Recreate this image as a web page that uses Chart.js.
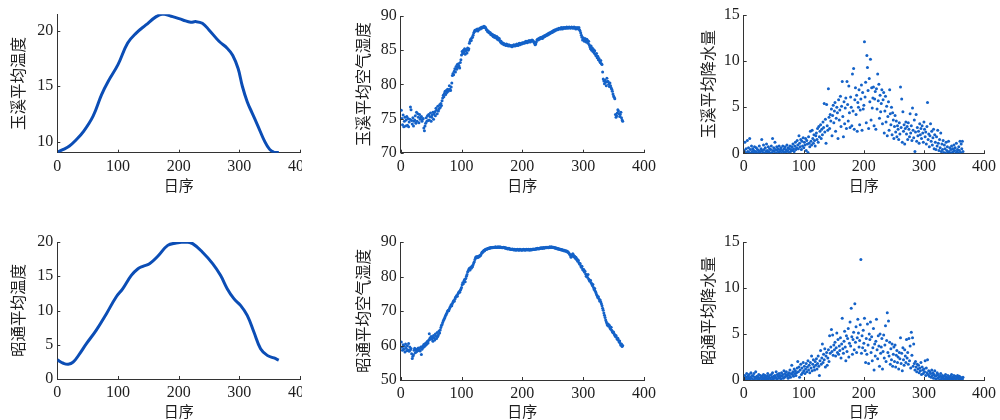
<!DOCTYPE html>
<html><head><meta charset="utf-8">
<script src="https://cdn.jsdelivr.net/npm/chart.js@4.4.0/dist/chart.umd.min.js"></script>
<style>
html,body{margin:0;padding:0;background:#fff;width:1000px;height:420px;overflow:hidden;position:relative}
canvas{position:absolute}
</style></head><body>
<canvas id="c1"></canvas><canvas id="c2"></canvas><canvas id="c3"></canvas>
<canvas id="c4"></canvas><canvas id="c5"></canvas><canvas id="c6"></canvas>
<script>
// ---- tick labels ----
const xTicks = [0, 100, 200, 300, 400];
const yTicksYxTemp = [10, 15, 20];
const yTicksYxHum = [70, 75, 80, 85, 90];
const yTicksYxRain = [0, 5, 10, 15];
const yTicksZtTemp = [0, 5, 10, 15, 20];
const yTicksZtHum = [50, 60, 70, 80, 90];
const yTicksZtRain = [0, 5, 10, 15];

// ---- titles ----
const xTitle = '日序';
const yTitles = ['玉溪平均温度', '玉溪平均空气湿度', '玉溪平均降水量', '昭通平均温度', '昭通平均空气湿度', '昭通平均降水量'];

// ---- temperature curves (day, value) ----
const yxTempDays = [0,10,20,30,43,59,73,84,100,116,130,146,163,174,190,207,220,228,239,250,267,280,289,298,305,313,321,330,342,350,357,365];
const yxTemp = [9.05,9.3,9.6,10.1,10.9,12.3,14.25,15.45,16.95,18.9,19.8,20.54,21.29,21.53,21.29,20.99,20.78,20.84,20.69,20.09,19.04,18.44,17.8,16.6,15.0,13.6,12.6,11.5,10.0,9.3,9.05,9.02];
const ztTempDays = [0,10,18,26,37,48,64,81,97,108,122,133,141,152,166,182,196,212,223,239,256,269,280,291,302,313,324,335,346,357,365];
const ztTemp = [2.8,2.3,2.15,2.45,3.7,5.16,7.1,9.54,11.97,13.19,15.13,16.1,16.45,16.84,17.96,19.51,19.85,20.0,19.76,18.54,16.84,15.13,13.19,11.73,10.75,9.29,6.86,4.43,3.45,3.07,2.75];

// ---- daily humidity, Yuxi (day 1..365) ----
const yxHum = [
76.2,75.0,74.1,75.5,73.8,74.6,75.2,73.9,74.8,75.3,
74.0,75.0,73.8,74.5,74.9,76.7,76.3,74.7,74.2,75.1,
73.9,74.6,74.8,75.4,74.3,75.9,74.6,75.7,75.2,74.4,
75.6,74.9,75.2,75.3,74.6,74.9,75.0,73.6,73.2,73.9,
74.3,75.1,74.6,75.4,74.7,75.6,74.8,75.3,75.8,74.6,
75.2,75.5,75.9,74.9,75.7,76.0,75.4,76.5,76.2,75.7,
76.8,76.1,76.4,77.0,76.6,77.2,76.9,77.6,78.0,78.4,
78.2,78.7,79.0,78.5,79.1,78.8,79.3,79.0,79.2,79.8,
79.3,79.1,79.6,80.2,81.3,81.6,81.4,81.9,82.3,81.8,
82.6,82.2,82.9,82.5,83.0,82.7,82.4,83.2,83.6,84.3,
84.8,84.5,85.0,84.7,85.2,84.4,84.9,85.1,84.6,85.3,
85.0,85.2,86.0,86.3,86.6,86.4,86.8,86.9,87.2,87.5,
87.7,87.9,87.8,88.0,87.9,88.1,87.8,88.0,88.1,88.2,
88.1,88.3,88.2,88.4,88.3,88.4,88.5,88.3,88.4,88.2,
88.0,87.9,87.7,87.8,87.6,87.5,87.6,87.3,87.4,87.2,
87.3,87.0,87.2,86.9,87.1,86.8,86.9,87.0,86.6,86.8,
86.5,86.7,86.4,86.2,86.3,86.0,86.1,85.9,86.0,85.8,
85.9,85.8,85.7,85.9,85.8,85.7,85.6,85.8,85.7,85.6,
85.7,85.6,85.5,85.7,85.6,85.8,85.7,85.6,85.8,85.7,
85.9,85.8,85.7,85.9,86.0,85.8,85.9,86.0,85.9,86.1,
86.0,86.1,86.0,86.2,86.1,86.3,86.2,86.1,86.3,86.2,
86.4,86.3,86.2,86.4,86.3,86.5,86.4,86.3,86.2,86.0,
85.8,85.9,86.2,86.5,86.6,86.5,86.7,86.6,86.8,86.7,
86.9,86.8,86.7,87.0,86.9,87.1,87.0,87.2,87.1,87.3,
87.2,87.4,87.3,87.5,87.4,87.6,87.5,87.7,87.6,87.8,
87.7,87.9,87.8,88.0,87.9,88.0,88.1,88.0,88.1,88.2,
88.1,88.2,88.1,88.3,88.2,88.1,88.3,88.2,88.3,88.2,
88.3,88.2,88.4,88.3,88.2,88.3,88.4,88.3,88.2,88.3,
88.4,88.3,88.2,88.3,88.4,88.2,88.3,88.1,88.2,88.3,
88.2,88.1,88.3,88.0,87.8,87.5,87.2,86.9,86.5,86.8,
86.6,86.3,86.7,86.5,86.2,86.6,86.4,86.0,86.3,85.8,
85.5,85.2,85.6,85.0,85.3,84.8,85.1,84.6,84.9,84.4,
84.2,84.5,83.9,84.1,83.6,83.8,83.4,83.2,83.5,83.0,
82.9,81.8,80.8,80.5,80.1,80.6,80.3,79.8,80.9,80.4,
80.4,80.0,79.7,80.2,79.8,79.5,79.3,79.0,78.6,78.3,
78.1,77.9,75.6,75.2,75.4,75.8,76.3,76.1,75.7,75.3,
75.6,75.9,75.1,74.8,74.6
];

// ---- daily humidity, Zhaotong ----
const ztHum = [
61.0,59.5,58.6,60.2,58.9,59.8,58.1,60.4,59.2,58.5,
59.9,58.7,60.6,58.3,59.6,58.8,59.1,57.6,56.2,56.9,
57.3,58.6,59.2,57.9,58.8,58.2,59.0,58.5,59.3,58.7,
59.1,58.4,59.6,57.4,58.9,59.8,59.4,60.3,59.7,60.5,
60.1,60.8,60.4,61.2,60.7,61.5,63.4,62.1,61.8,62.6,
61.9,62.4,61.2,62.9,62.2,61.6,63.3,62.7,62.0,63.8,
62.6,63.1,64.2,63.6,64.5,65.2,65.8,66.1,66.7,67.2,
67.5,67.9,68.3,68.8,69.1,69.4,69.9,70.2,70.1,70.6,
71.0,71.4,71.8,71.5,72.2,72.6,73.0,72.8,73.4,73.9,
74.1,74.5,74.3,74.9,75.3,75.6,75.4,76.0,76.4,76.8,
77.6,78.2,77.9,78.7,79.1,78.5,79.4,80.1,80.6,81.3,
81.6,82.0,82.4,81.9,82.6,82.4,83.0,82.8,83.4,83.9,
84.3,84.9,85.4,85.7,85.4,85.8,85.5,85.9,85.7,86.1,
86.0,86.4,86.8,87.1,87.0,87.4,87.6,87.5,87.8,87.9,
88.0,87.9,88.1,88.2,88.1,88.3,88.2,88.4,88.3,88.4,
88.3,88.5,88.4,88.5,88.4,88.6,88.5,88.4,88.5,88.6,
88.5,88.4,88.6,88.5,88.4,88.5,88.3,88.4,88.5,88.3,
88.4,88.2,88.3,88.1,88.2,88.0,88.1,88.2,88.0,87.9,
88.0,87.8,87.9,88.0,87.8,87.7,87.9,87.8,87.6,87.8,
87.7,87.9,87.8,87.6,87.7,87.9,87.8,87.7,87.6,87.8,
87.7,87.9,87.8,87.6,87.8,87.7,87.9,87.8,87.7,87.9,
87.8,87.6,87.8,87.9,87.7,87.8,87.9,88.0,87.8,87.9,
88.0,87.9,88.1,88.0,88.2,88.1,88.0,88.2,88.1,88.3,
88.2,88.3,88.1,88.3,88.4,88.2,88.3,88.4,88.5,88.3,
88.4,88.5,88.3,88.4,88.6,88.5,88.4,88.6,88.5,88.4,
88.5,88.3,88.4,88.2,88.3,88.1,88.2,88.0,88.1,87.9,
88.0,87.8,87.9,87.7,87.8,87.6,87.7,87.5,87.6,87.4,
87.5,87.3,87.4,87.1,87.2,86.9,86.7,86.4,86.1,85.6,
85.9,86.4,86.6,86.2,85.7,85.9,85.3,85.6,84.9,85.1,
84.4,84.7,84.0,83.6,83.8,83.1,82.7,83.0,82.2,81.8,
82.0,81.3,81.5,80.7,80.1,80.4,79.8,80.6,79.3,79.0,
78.6,78.9,78.2,77.9,77.4,77.7,76.8,76.2,76.5,75.7,
75.3,74.8,74.4,73.9,74.1,73.5,72.9,73.2,72.6,72.1,
71.5,70.8,70.2,69.4,68.8,68.1,67.4,66.9,66.4,65.9,
66.2,65.6,65.9,65.1,64.8,65.3,64.4,64.0,63.7,63.9,
63.4,63.0,62.6,62.9,62.3,61.8,62.1,61.5,61.0,61.3,
60.6,60.1,60.4,59.7,60.0
];

// ---- daily precipitation, Yuxi ----
const yxRain = [
0.3,1.2,0.1,0.5,0.0,1.4,0.2,0.6,0.1,1.6,
0.4,0.0,0.8,0.2,0.5,0.0,0.3,0.7,0.1,0.2,
0.6,0.0,0.4,0.1,0.3,0.8,0.0,0.2,0.5,1.5,
0.3,0.1,0.9,0.4,0.0,0.6,0.2,1.0,0.3,0.1,
0.7,0.2,0.5,0.0,0.4,0.8,0.1,1.6,0.3,0.6,
0.2,1.2,0.4,0.0,0.7,0.3,0.5,0.1,0.8,0.2,
0.4,0.6,0.0,0.3,0.8,0.2,0.5,0.1,0.7,0.4,
0.2,0.9,0.3,0.6,0.1,0.5,0.8,0.2,0.4,0.7,
0.3,1.0,0.5,0.2,0.8,1.2,0.4,0.6,1.4,0.9,
0.5,1.9,1.1,0.7,1.5,0.4,1.3,0.8,1.7,0.6,
1.2,0.9,1.6,0.3,1.4,1.0,0.1,1.8,1.1,0.7,
2.4,1.3,0.9,2.5,1.6,1.1,2.0,1.4,0.8,1.9,
2.2,1.5,2.7,1.2,2.9,1.8,2.4,3.1,1.6,2.6,
2.0,3.4,2.8,5.4,2.3,3.7,1.1,5.3,3.0,2.5,
7.0,3.9,2.7,4.2,3.5,4.8,1.9,4.1,5.2,3.3,
4.6,5.5,2.4,3.8,5.0,4.4,1.6,5.8,3.6,4.7,
6.2,2.9,5.1,7.8,4.0,1.8,5.6,3.2,4.9,6.0,
2.7,7.8,5.3,3.5,7.3,4.4,2.8,6.1,5.0,3.0,
8.6,4.6,9.2,2.6,5.8,7.1,4.2,6.3,2.4,5.5,
5.0,6.9,3.1,4.7,5.9,7.4,2.5,6.6,4.8,5.2,
12.1,6.1,7.7,3.3,10.6,9.3,6.8,2.7,8.1,5.6,
10.2,3.6,7.1,4.9,6.0,7.2,3.0,5.9,6.7,2.6,
7.0,4.8,8.6,5.7,7.5,3.8,6.3,4.5,5.4,6.9,
3.2,5.8,6.6,2.2,4.6,6.2,3.4,5.1,1.9,4.0,
5.6,2.5,6.9,4.3,3.1,5.0,2.0,4.4,3.6,1.6,
2.9,4.1,2.3,3.5,1.8,3.0,2.6,1.5,3.3,2.1,
7.2,2.8,5.9,1.2,4.5,2.4,3.1,1.0,2.7,3.4,
2.1,2.9,1.5,3.3,2.6,1.8,4.3,2.2,3.0,1.4,
4.9,2.5,1.7,3.6,0.2,2.3,4.2,1.3,2.8,1.9,
2.4,1.1,3.2,2.0,2.7,1.6,3.0,2.2,1.2,3.4,
2.6,1.8,2.3,1.0,2.9,5.5,1.5,2.1,0.7,1.9,
3.2,1.3,2.4,0.9,1.7,2.6,0.5,2.0,1.2,0.4,
1.8,0.8,2.5,1.1,0.3,1.5,0.6,2.2,0.2,1.0,
0.4,1.4,0.1,0.9,0.5,0.0,1.2,0.3,0.7,0.1,
1.3,0.2,0.6,0.0,0.4,0.8,0.1,0.5,0.2,0.9,
0.3,0.6,0.0,1.1,0.2,0.4,0.0,0.7,0.3,1.3,
0.1,1.0,0.5,1.3,0.2
];

// ---- daily precipitation, Zhaotong ----
const ztRain = [
0.2,0.5,0.1,0.3,0.7,0.0,0.4,0.2,0.6,0.1,
0.3,0.8,0.2,0.5,0.0,0.4,0.7,0.1,0.3,0.9,
0.2,0.4,0.0,0.3,0.6,0.1,0.2,0.5,0.3,0.0,
0.4,0.2,0.6,0.1,0.3,0.5,0.0,0.2,0.4,0.7,
0.1,0.3,0.5,0.2,0.0,0.6,0.3,0.8,0.1,0.4,
0.2,0.5,0.3,0.9,0.1,0.6,0.4,0.2,0.7,0.3,
0.5,0.1,0.8,0.4,0.6,0.2,1.0,0.3,0.7,0.5,
0.9,0.4,0.6,0.2,0.8,0.5,1.1,0.3,0.7,1.6,
0.6,0.9,0.4,1.2,0.7,1.0,0.5,0.8,1.3,2.0,
0.9,1.4,0.3,1.1,1.7,0.6,1.3,0.8,1.9,1.0,
1.5,0.7,1.2,1.8,0.9,1.4,2.1,1.1,1.6,0.8,
1.9,1.3,2.6,1.0,1.7,2.2,1.4,1.1,2.0,1.6,
2.3,1.2,1.8,2.6,1.5,0.5,2.1,3.2,1.7,2.4,
3.9,1.9,2.8,2.2,3.4,1.4,2.6,3.0,1.6,2.4,
3.3,2.0,4.8,2.9,3.6,5.5,3.1,4.9,2.7,3.8,
3.3,4.1,2.6,3.5,5.1,3.0,4.4,2.8,3.7,3.2,
4.6,2.4,3.9,6.7,3.4,2.9,4.2,5.3,3.6,2.1,
4.8,3.1,4.5,5.6,2.5,4.0,6.3,3.7,7.8,4.7,
2.8,4.4,5.2,3.3,8.3,4.1,5.8,3.0,4.6,6.6,
5.1,3.6,4.3,6.0,13.1,2.9,4.8,3.5,5.4,4.0,
6.7,3.2,1.9,4.5,2.8,6.1,3.8,1.8,5.0,4.4,
6.3,3.0,4.7,2.1,3.5,5.6,1.1,3.9,2.6,4.2,
6.6,3.3,2.3,4.8,3.7,1.5,5.0,2.9,3.6,4.5,
1.2,3.1,4.9,2.4,3.8,5.9,2.0,4.3,7.3,3.0,
6.4,2.6,4.1,1.7,3.4,2.2,3.9,1.5,2.8,3.6,
2.0,3.8,1.4,2.7,3.2,1.9,2.5,1.2,3.0,2.3,
4.6,1.8,2.9,1.0,3.5,2.2,1.6,3.3,2.6,1.9,
4.4,2.4,3.0,1.7,4.5,2.1,3.7,1.3,5.2,2.7,
4.6,1.5,3.9,1.8,1.1,2.0,1.4,0.9,1.7,1.2,
1.6,0.8,1.3,1.0,1.9,0.6,1.4,1.1,0.7,1.2,
0.9,2.1,0.5,1.3,0.8,2.2,0.6,1.0,0.4,0.9,
0.7,0.3,1.1,0.5,0.8,0.2,0.6,1.0,0.4,0.1,
0.5,0.8,0.2,0.6,0.3,0.0,0.4,0.7,0.1,0.3,
0.5,0.2,0.0,0.4,0.1,0.6,0.3,0.0,0.2,0.5,
0.1,0.3,0.0,0.4,0.2,0.6,0.1,0.3,0.0,0.5,
0.2,0.4,0.1,0.0,0.3,0.5,0.2,0.0,0.4,0.1,
0.3,0.0,0.2,0.1,0.3
];

// ---- styling ----
const LINE_COLOR = '#0b4db5';
const DOT_COLOR = '#1462c8';
const AXIS_COLOR = '#333333';
const TEXT_COLOR = '#1e1e1e';
const NUM_FONT = "'Liberation Serif','DejaVu Serif',serif";
const CJK_FONT = "'Noto Sans CJK SC','Noto Sans CJK JP',sans-serif";

const inwardTicks = {
  id: 'inwardTicks',
  afterDatasetsDraw(chart) {
    const {ctx, chartArea: a, scales: {x, y}} = chart;
    ctx.save();
    ctx.strokeStyle = AXIS_COLOR;
    ctx.lineWidth = 1;
    ctx.beginPath();
    x.ticks.forEach(t => {
      const px = Math.round(x.getPixelForValue(t.value)) + 0.5;
      ctx.moveTo(px, a.bottom); ctx.lineTo(px, a.bottom - 3);
    });
    y.ticks.forEach(t => {
      const py = Math.round(y.getPixelForValue(t.value)) + 0.5;
      ctx.moveTo(a.left, py); ctx.lineTo(a.left + 3, py);
    });
    ctx.stroke();
    ctx.restore();
  }
};

function lineSet(days, vals) {
  return {
    data: days.map((d, i) => ({x: d, y: vals[i]})),
    showLine: true, borderColor: LINE_COLOR, borderWidth: 3,
    pointRadius: 0, tension: 0.4, fill: false
  };
}
function dotSet(vals) {
  return {
    data: vals.map((v, i) => ({x: i + 1, y: v})),
    showLine: false, pointRadius: 1.5, pointBorderWidth: 0,
    backgroundColor: DOT_COLOR, borderColor: DOT_COLOR
  };
}

// clip: visible width of the canvas (left panels cut off their last tick label like the original)
const panels = [
  {id: 'c1', left: 9,   top: 0,   w: 307, h: 194, pt: 14.3, pr: 15.3, yw: 48.3, xh: 41.3, min: 9,  max: 21.5, ticks: yTicksYxTemp, title: yTitles[0], ds: lineSet(yxTempDays, yxTemp), clip: 293},
  {id: 'c2', left: 354, top: 0,   w: 306, h: 194, pt: 16,   pr: 15.3, yw: 46.7, xh: 41.3, min: 70, max: 90,   ticks: yTicksYxHum,  title: yTitles[1], ds: dotSet(yxHum)},
  {id: 'c3', left: 699, top: 0,   w: 301, h: 194, pt: 15,   pr: 12.3, yw: 44.7, xh: 40.7, min: 0,  max: 15,   ticks: yTicksYxRain, title: yTitles[2], ds: dotSet(yxRain)},
  {id: 'c4', left: 9,   top: 220, w: 307, h: 200, pt: 22,   pr: 15.3, yw: 48.3, xh: 41,   min: 0,  max: 20,   ticks: yTicksZtTemp, title: yTitles[3], ds: lineSet(ztTempDays, ztTemp), clip: 293},
  {id: 'c5', left: 354, top: 220, w: 306, h: 200, pt: 22,   pr: 15.3, yw: 46.7, xh: 40,   min: 50, max: 90,   ticks: yTicksZtHum,  title: yTitles[4], ds: dotSet(ztHum)},
  {id: 'c6', left: 699, top: 220, w: 301, h: 200, pt: 22,   pr: 12.3, yw: 44.7, xh: 40,   min: 0,  max: 15,   ticks: yTicksZtRain, title: yTitles[5], ds: dotSet(ztRain)}
];

panels.forEach(p => {
  const cv = document.getElementById(p.id);
  cv.width = p.w; cv.height = p.h;
  cv.style.left = p.left + 'px'; cv.style.top = p.top + 'px';
  cv.style.width = p.w + 'px'; cv.style.height = p.h + 'px';
  if (p.clip) cv.style.clipPath = 'inset(0 ' + (p.w - p.clip) + 'px 0 0)';
  new Chart(cv, {
    type: 'scatter',
    data: {datasets: [p.ds]},
    options: {
      responsive: false, animation: false, events: [],
      layout: {autoPadding: false, padding: {top: p.pt, right: p.pr, left: 0, bottom: 0}},
      plugins: {legend: {display: false}, tooltip: {enabled: false}},
      scales: {
        x: {
          type: 'linear', min: 0, max: 400,
          afterBuildTicks: s => { s.ticks = xTicks.map(v => ({value: v})); },
          afterFit: s => { s.height = p.xh; },
          grid: {display: false, drawTicks: false},
          border: {display: true, color: AXIS_COLOR, width: 1},
          ticks: {padding: 4, color: TEXT_COLOR, font: {family: NUM_FONT, size: 16}, maxRotation: 0, autoSkip: false},
          title: {display: true, text: xTitle, color: TEXT_COLOR, padding: 0, font: {family: CJK_FONT, size: 15}}
        },
        y: {
          type: 'linear', min: p.min, max: p.max,
          afterBuildTicks: s => { s.ticks = p.ticks.map(v => ({value: v})); },
          afterFit: s => { s.width = p.yw; },
          grid: {display: false, drawTicks: false},
          border: {display: true, color: AXIS_COLOR, width: 1},
          ticks: {padding: 4, color: TEXT_COLOR, font: {family: NUM_FONT, size: 16}, autoSkip: false},
          title: {display: true, text: p.title, color: TEXT_COLOR, padding: 0, font: {family: CJK_FONT, size: 15.5}}
        }
      }
    },
    plugins: [inwardTicks]
  });
});
</script>
</body></html>
